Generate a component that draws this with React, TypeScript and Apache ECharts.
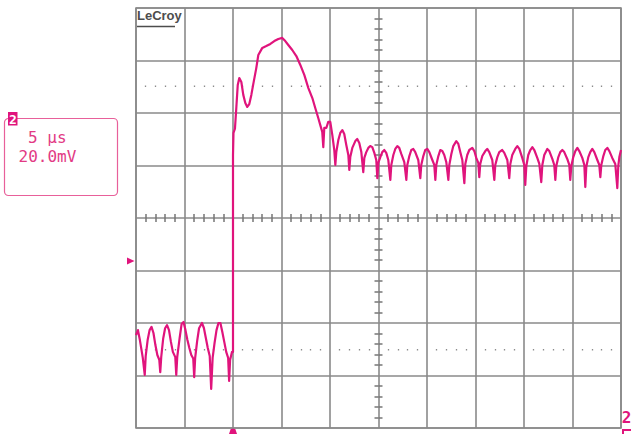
import React, { useEffect, useRef } from "react";
import * as echarts from "echarts";

// Oscilloscope settings (5 µs/div, 20 mV/div, 10 x 8 divisions)
const TIME_MIN_US = -10;
const TIME_MAX_US = 40;
const US_PER_DIV = 5;
const VOLT_MIN_MV = -80;
const VOLT_MAX_MV = 80;
const MV_PER_DIV = 20;
const TIMEBASE_LABEL = "5 µs";
const VOLTS_LABEL = "20.0mV";
const CHANNEL_LABEL = "2";
const BRAND_LABEL = "LeCroy";

// Trace samples: [time µs, voltage mV]
const PRE_TRIGGER: [number, number][] = [
  [-10.0, -44.6], [-9.8, -42.7], [-9.6, -46.5], [-9.4, -51.0], [-9.3, -53.3], [-9.1, -59.8],
  [-9.0, -52.6], [-8.8, -46.5], [-8.6, -42.7], [-8.4, -41.5], [-8.2, -43.8], [-8.0, -48.4],
  [-7.8, -52.2], [-7.6, -54.0], [-7.5, -58.7], [-7.4, -53.0], [-7.2, -46.0], [-7.0, -42.0],
  [-6.8, -40.8], [-6.6, -42.7], [-6.4, -47.2], [-6.2, -51.0], [-5.95, -53.0], [-5.85, -59.8],
  [-5.75, -53.0], [-5.5, -45.7], [-5.3, -40.4], [-5.1, -39.6], [-4.9, -42.7], [-4.7, -46.5],
  [-4.5, -49.5], [-4.3, -52.2], [-4.1, -53.5], [-4.0, -60.6], [-3.9, -53.3], [-3.7, -47.0],
  [-3.5, -42.0], [-3.2, -40.0], [-3.0, -41.9], [-2.8, -45.7], [-2.6, -49.5], [-2.4, -52.6],
  [-2.25, -65.1], [-2.1, -53.3], [-1.9, -47.6], [-1.7, -42.7], [-1.5, -40.0], [-1.3, -40.0],
  [-1.1, -43.4], [-0.9, -47.2], [-0.7, -51.0], [-0.5, -53.3], [-0.4, -62.1], [-0.3, -54.1],
  [-0.1, -51.0],
];

const STEP_RESPONSE: [number, number][] = [
  [0.0, -51.0], [0.0, 24.0], [0.05, 32.4], [0.2, 34.0], [0.34, 41.9], [0.49, 50.7],
  [0.65, 53.3], [0.86, 51.8], [1.06, 46.9], [1.27, 43.8], [1.47, 42.3], [1.68, 43.4],
  [1.89, 46.9], [2.09, 51.0], [2.4, 57.1], [2.61, 62.1], [3.02, 64.8], [3.43, 65.5],
  [3.85, 66.3], [4.26, 67.4], [4.67, 68.2], [5.08, 68.6], [5.39, 67.4], [5.7, 65.9],
  [6.11, 64.0], [6.53, 61.7], [6.94, 58.3], [7.35, 54.5], [7.77, 49.5], [8.18, 45.7],
  [8.48, 41.9], [8.79, 38.1], [9.0, 35.4], [9.2, 32.8], [9.31, 27.0], [9.41, 34.3],
  [9.62, 34.3], [9.82, 36.6], [10.03, 36.6], [10.24, 31.6],
];

const RINGING: [number, number][] = [
  [10.44, 25.9], [10.55, 20.2], [10.65, 25.1], [10.86, 29.7], [11.06, 32.4], [11.27, 33.5],
  [11.47, 32.0], [11.68, 27.8], [11.89, 24.0], [11.99, 18.3], [12.09, 23.2], [12.3, 26.7],
  [12.61, 29.3], [12.81, 30.1], [13.02, 28.6], [13.23, 25.1], [13.43, 17.5], [13.54, 22.9],
  [13.74, 25.1], [13.95, 26.7], [14.15, 27.4], [14.36, 27.0], [14.57, 24.8], [14.77, 22.1],
  [14.88, 15.2], [14.98, 21.0], [15.19, 23.2], [15.39, 25.1], [15.6, 25.9], [15.8, 24.8],
  [16.01, 22.1], [16.22, 14.5], [16.32, 20.2], [16.53, 24.0], [16.73, 26.3], [16.94, 27.4],
  [17.14, 26.7], [17.35, 24.4], [17.66, 21.3], [17.87, 14.5], [17.97, 20.2], [18.18, 23.6],
  [18.38, 25.9], [18.59, 26.3], [18.79, 25.1], [19.1, 22.1], [19.31, 15.2], [19.41, 20.2],
  [19.62, 23.6], [19.82, 25.9], [20.03, 26.3], [20.24, 25.1], [20.55, 22.1], [20.75, 20.2],
  [20.86, 14.5], [20.96, 20.2], [21.17, 23.6], [21.37, 25.9], [21.58, 25.5], [21.78, 24.0],
  [21.99, 21.3], [22.2, 14.5], [22.3, 20.2], [22.51, 24.4], [22.71, 27.4], [23.02, 29.3],
  [23.23, 28.2], [23.43, 25.1], [23.64, 22.1], [23.85, 13.3], [23.95, 20.6], [24.15, 24.0],
  [24.36, 25.9], [24.67, 26.7], [24.88, 25.5], [25.08, 22.9], [25.29, 21.0], [25.39, 15.6],
  [25.49, 20.6], [25.7, 23.6], [26.01, 25.5], [26.21, 26.3], [26.42, 25.1], [26.73, 22.1],
  [26.94, 14.5], [27.04, 20.2], [27.25, 23.2], [27.45, 25.1], [27.76, 25.9], [27.97, 24.8],
  [28.28, 22.1], [28.48, 15.2], [28.59, 20.6], [28.79, 24.0], [29.1, 26.3], [29.31, 27.4],
  [29.52, 26.3], [29.82, 22.9], [30.03, 20.2], [30.13, 12.6], [30.24, 19.8], [30.44, 24.0],
  [30.65, 25.9], [30.86, 27.0], [31.06, 25.9], [31.37, 22.9], [31.58, 20.6], [31.78, 13.7],
  [31.89, 20.2], [32.09, 24.0], [32.4, 26.3], [32.61, 25.5], [32.92, 22.5], [33.12, 20.2],
  [33.23, 14.5], [33.33, 19.8], [33.54, 23.2], [33.74, 25.1], [33.95, 25.9], [34.15, 25.1],
  [34.46, 22.5], [34.67, 20.2], [34.77, 14.5], [34.88, 19.8], [35.08, 23.2], [35.29, 25.5],
  [35.5, 26.7], [35.7, 25.5], [36.01, 22.9], [36.22, 20.2], [36.32, 11.8], [36.42, 19.4],
  [36.63, 23.2], [36.83, 25.1], [37.04, 26.3], [37.25, 25.1], [37.56, 22.1], [37.76, 20.2],
  [37.87, 15.6], [37.97, 20.2], [38.18, 23.6], [38.38, 25.9], [38.59, 26.7], [38.8, 25.5],
  [39.1, 22.9], [39.41, 20.6], [39.62, 11.4], [39.72, 19.8], [39.83, 23.2], [40.0, 25.9],
];

const TRACE = "#e0147c";
const GRID = "#8a8a8a";
const TICK = "#767676";

const GRID_LEFT = 136;
const GRID_TOP = 8;
const GRID_W = 485;
const GRID_H = 420;

function tickAxisX(offset: number, inside: boolean, length: number, color: string, width: number) {
  return {
    type: "value",
    min: TIME_MIN_US,
    max: TIME_MAX_US,
    interval: US_PER_DIV,
    position: "bottom",
    offset,
    axisLine: { show: false, onZero: false },
    axisTick: { show: false, inside },
    axisLabel: { show: false },
    splitLine: { show: false },
    minorTick: { show: true, splitNumber: 5, length, lineStyle: { color, width } },
  };
}

function tickAxisY(offset: number, inside: boolean) {
  return {
    type: "value",
    min: VOLT_MIN_MV,
    max: VOLT_MAX_MV,
    interval: MV_PER_DIV,
    position: "left",
    offset,
    axisLine: { show: false, onZero: false },
    axisTick: { show: false, inside },
    axisLabel: { show: false },
    splitLine: { show: false },
    minorTick: { show: true, splitNumber: 5, length: 4, lineStyle: { color: TICK, width: 1.5 } },
  };
}

export default function App() {
  const ref = useRef<HTMLDivElement>(null);
  useEffect(() => {
    const chart = echarts.init(ref.current!, undefined, { renderer: "svg" });
    const option = {
      animation: false,
      backgroundColor: "#ffffff",
      grid: {
        left: GRID_LEFT,
        top: GRID_TOP,
        width: GRID_W,
        height: GRID_H,
        show: true,
        borderColor: GRID,
        borderWidth: 1.6,
        backgroundColor: "transparent",
      },
      xAxis: [
        {
          type: "value",
          min: TIME_MIN_US,
          max: TIME_MAX_US,
          interval: US_PER_DIV,
          axisLine: { show: false, onZero: false },
          axisTick: { show: false },
          axisLabel: { show: false },
          splitLine: { show: true, lineStyle: { color: GRID, width: 1.6 } },
        },
        tickAxisX(-GRID_H / 2, true, 4, TICK, 1.5),
        tickAxisX(-GRID_H / 2, false, 4, TICK, 1.5),
        tickAxisX(-341, true, 1.5, "#8c8c8c", 1.3),
        tickAxisX(-77.5, true, 1.5, "#8c8c8c", 1.3),
      ],
      yAxis: [
        {
          type: "value",
          min: VOLT_MIN_MV,
          max: VOLT_MAX_MV,
          interval: MV_PER_DIV,
          axisLine: { show: false, onZero: false },
          axisTick: { show: false },
          axisLabel: { show: false },
          splitLine: { show: true, lineStyle: { color: GRID, width: 1.6 } },
        },
        tickAxisY(-GRID_W / 2, true),
        tickAxisY(-GRID_W / 2, false),
      ],
      series: [
        {
          type: "line",
          xAxisIndex: 0,
          yAxisIndex: 0,
          data: [...PRE_TRIGGER, ...STEP_RESPONSE, ...RINGING],
          showSymbol: false,
          symbol: "none",
          lineStyle: { color: TRACE, width: 2.2, join: "round" },
          z: 5,
        },
      ],
      graphic: {
        elements: [
          {
            type: "text",
            x: 137,
            y: 9,
            style: {
              text: BRAND_LABEL,
              font: 'bold 13px "Liberation Sans"',
              fill: "#4d4d4d",
              verticalAlign: "top",
            },
          },
          {
            type: "line",
            shape: { x1: 137, y1: 26.5, x2: 175, y2: 26.5 },
            style: { stroke: "#4d4d4d", lineWidth: 1.5 },
          },
          {
            type: "rect",
            shape: { x: 4.5, y: 118.5, width: 113, height: 77, r: 4 },
            style: { fill: "none", stroke: "#e8609a", lineWidth: 1.2 },
          },
          {
            type: "rect",
            shape: { x: 8, y: 112, width: 9.5, height: 13.5 },
            style: { fill: TRACE },
          },
          {
            type: "text",
            x: 12.8,
            y: 119,
            style: {
              text: CHANNEL_LABEL,
              font: 'bold 13px "DejaVu Sans Mono"',
              fill: "#ffffff",
              align: "center",
              verticalAlign: "middle",
            },
          },
          {
            type: "text",
            x: 28,
            y: 137.5,
            style: {
              text: TIMEBASE_LABEL,
              font: '16px "DejaVu Sans Mono"',
              fill: "#e23a84",
              verticalAlign: "middle",
            },
          },
          {
            type: "text",
            x: 18.5,
            y: 156.5,
            style: {
              text: VOLTS_LABEL,
              font: '16px "DejaVu Sans Mono"',
              fill: "#e23a84",
              verticalAlign: "middle",
            },
          },
          {
            type: "polygon",
            shape: { points: [[127, 257.5], [134.5, 261], [127, 264.5]] },
            style: { fill: TRACE },
          },
          {
            type: "polygon",
            shape: { points: [[229, 434], [230.5, 429.5], [233, 427.5], [235.5, 429.5], [237, 434]] },
            style: { fill: TRACE },
          },
          {
            type: "text",
            x: 626.5,
            y: 417,
            style: {
              text: CHANNEL_LABEL,
              font: 'bold 16px "DejaVu Sans Mono"',
              fill: TRACE,
              align: "center",
              verticalAlign: "middle",
            },
          },
          {
            type: "rect",
            shape: { x: 622, y: 429, width: 9, height: 2 },
            style: { fill: TRACE },
          },
          {
            type: "rect",
            shape: { x: 622, y: 429, width: 2, height: 5 },
            style: { fill: TRACE },
          },
        ],
      },
    };
    chart.setOption(option as any);
    return () => chart.dispose();
  }, []);
  return (
    <div
      ref={ref}
      style={{ position: "fixed", left: 0, top: 0, width: 631, height: 434, background: "#fff" }}
    />
  );
}
